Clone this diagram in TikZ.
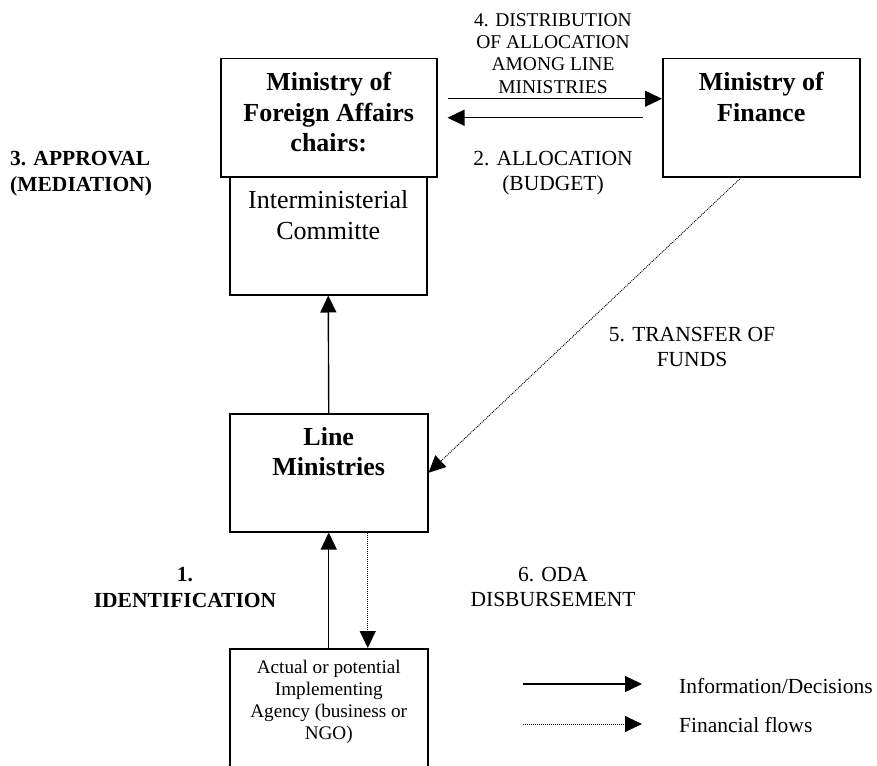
\documentclass[tikz,border=0pt]{standalone}
\usepackage{fontspec}
\setmainfont{Liberation Serif}
\usetikzlibrary{arrows.meta,positioning}

\begin{document}
\begin{tikzpicture}[x=1pt,y=-1pt,
  box/.style={draw=black, line width=1.5pt, minimum width=#1, minimum height=118pt,
    inner sep=0pt, anchor=north west},
  box/.default=198pt,
  boxtitle/.style={font=\fontsize{26}{30.5}\selectfont\bfseries, align=center, inner sep=0pt},
  boxplain/.style={font=\fontsize{26}{31}\selectfont, align=center, inner sep=0pt},
  steplabel/.style={font=\fontsize{21.5}{25}\selectfont, align=center, inner sep=0pt, anchor=north},
  stepbold/.style={font=\fontsize{21.5}{26}\selectfont\bfseries, inner sep=0pt},
  info/.style={line width=1.4pt, -{Triangle[length=17pt,width=16pt]}},
  money/.style={line width=0.9pt, dash pattern=on 1pt off 1pt, -{Triangle[length=17pt,width=16pt]}}]
\useasboundingbox (0,0) rectangle (877,765);

% boxes
\node[box=216pt] (mfa) at (220,58) {};
\node[box=197pt] (committee) at (229,176) {};
\node[box=197pt] (mof) at (662,58) {};
\node[box] (lineMin) at (229,413) {};
\node[box] (agency) at (229,648) {};

\node[boxtitle, below=14pt of mfa.north] (mfaText) {Ministry of\\Foreign Affairs\\chairs:};
\node[boxplain, below=14pt of committee.north] (committeeText) {Interministerial\\Committe};
\node[boxtitle, below=14pt of mof.north] (mofText) {Ministry of\\Finance};
\node[boxtitle, below=14pt of lineMin.north] (lineText) {Line\\Ministries};
\node[font=\fontsize{19.2}{22}\selectfont, align=center, inner sep=0pt,
  below=12pt of agency.north] (agencyText) {Actual or potential\\Implementing\\Agency (business or\\NGO)};

% steps
\node[steplabel, font=\fontsize{19.5}{22.3}\selectfont] (distLabel) at (553,13)
  {4. DISTRIBUTION\\OF ALLOCATION\\AMONG LINE\\MINISTRIES};
\node[steplabel] (allocLabel) at (553,151) {2. ALLOCATION\\(BUDGET)};
\node[stepbold, align=left, anchor=north west] (approvalLabel) at (10,151) {3. APPROVAL\\(MEDIATION)};
\node[steplabel] (transferLabel) at (692,327) {5. TRANSFER OF\\FUNDS};
\node[stepbold, align=center, anchor=north] (identLabel) at (185,567) {1.\\IDENTIFICATION};
\node[steplabel] (odaLabel) at (553,567) {6. ODA\\DISBURSEMENT};

% flows
\draw[info] ([xshift=10pt,yshift=19pt]mfa.east) -- ([yshift=19pt]mof.west);
\draw[info] ([xshift=-19pt]mof.west) -- ([xshift=10pt]mfa.east);
\draw[info] (lineMin.north) -- (committee.south);
\draw[info] (agency.north) -- (lineMin.south);
\draw[money] ([xshift=-20pt]mof.south) -- (lineMin.east);
\draw[money] ([xshift=39pt]lineMin.south) -- ([xshift=39pt]agency.north);

% legend
\coordinate (infoStart) at (523,684);
\coordinate (infoEnd) at (642,684);
\coordinate (moneyStart) at (523,724);
\coordinate (moneyEnd) at (642,724);
\node[font=\fontsize{21.5}{25}\selectfont, inner sep=0pt, anchor=base west] (infoText) at (679,693) {Information/Decisions};
\node[font=\fontsize{21.5}{25}\selectfont, inner sep=0pt, anchor=base west] (moneyText) at (679,732) {Financial flows};
\draw[info] (infoStart) -- (infoEnd);
\draw[money] (moneyStart) -- (moneyEnd);
\end{tikzpicture}
\end{document}
